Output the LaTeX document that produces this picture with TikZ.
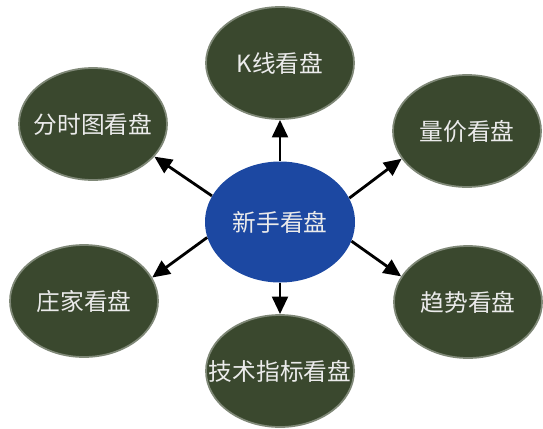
\documentclass[tikz,border=0pt]{standalone}
\usepackage{fontspec}
\newfontfamily\cjk{Noto Sans CJK SC}
\usetikzlibrary{arrows.meta,shapes.geometric}
\definecolor{CentroAzul}{RGB}{28,72,162}
\definecolor{HojaVerde}{RGB}{58,72,46}
\colorlet{TextoClaro}{white!92!black}
\tikzset{
    centro/.style={ellipse, fill=CentroAzul, minimum width=3.0cm, minimum height=2.42cm,
        font=\cjk\fontsize{13.5}{15}\selectfont, text=TextoClaro, inner sep=0pt},
    hoja/.style={ellipse, fill=HojaVerde, draw=HojaVerde!65!white, line width=1pt,
        minimum width=2.96cm, minimum height=2.24cm, inner xsep=-11pt, inner ysep=0pt,
        font=\cjk\fontsize{13.5}{15}\selectfont, text=TextoClaro},
    flecha/.style={line width=1.6pt, -{Triangle[length=10pt,width=9pt]}}
}

\begin{document}
\begin{tikzpicture}

    \useasboundingbox (0, 0) rectangle (10.86, 8.56);

    \coordinate (C) at (5.60, 4.12);
    \coordinate (K) at (5.60, 7.30);
    \coordinate (UL) at (1.86, 6.08);
    \coordinate (UR) at (9.34, 5.94);
    \coordinate (LL) at (1.68, 2.54);
    \coordinate (LR) at (9.36, 2.52);
    \coordinate (B) at (5.60, 1.14);

    % Nodo central y las seis hojas.
    \node [centro] (centro) at (C) {新手看盘};
    \node [hoja] (kxian) at (K) {K线看盘};
    \node [hoja] (fenshi) at (UL) {分时图看盘};
    \node [hoja] (liangjia) at (UR) {量价看盘};
    \node [hoja] (zhuangjia) at (LL) {庄家看盘};
    \node [hoja] (qushi) at (LR) {趋势看盘};
    \node [hoja] (jishu) at (B) {技术指标看盘};

    \draw [flecha] (centro) -- (kxian);
    \draw [flecha] (centro) -- (jishu);
    \draw [flecha] (centro.159) -- (fenshi.-28);
    \draw [flecha] (centro.19) -- (liangjia.-157);
    \draw [flecha] (centro.-168) -- (zhuangjia.19);
    \draw [flecha] (centro.-15) -- (qushi.159);
\end{tikzpicture}
\end{document}
